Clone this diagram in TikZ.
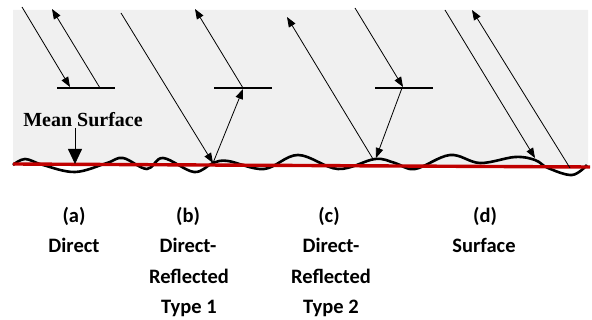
\documentclass[tikz,border=0pt]{standalone}
\usepackage{fontspec}
\setmainfont{Carlito}
\newfontfamily\timesbold{Liberation Serif}[BoldFont={* Bold}]
\usetikzlibrary{arrows.meta}
\definecolor{panelgrey}{HTML}{F0F0F0}
\definecolor{meanred}{HTML}{C00000}
\tikzset{
  ray/.style={line width=0.8pt, -{Triangle[length=10pt,width=7.5pt]}},
  detector/.style={line width=2pt},
  caption/.style={font=\fontsize{20.5}{24}\selectfont\bfseries, anchor=base, inner sep=0pt},
  meanlabel/.style={font=\fontsize{20}{24}\selectfont\timesbold\bfseries, anchor=base, inner sep=0pt},
}
\begin{document}
\begin{tikzpicture}[x=1pt,y=-1pt]
\useasboundingbox (0,0) rectangle (592,320);
% shaded region above the surface
\fill[panelgrey] (13,10) -- (588,10) -- (588,167) -- (13,164) -- cycle;

% rough surface profile
\draw[line width=2.6pt, line join=round]
  plot[smooth, tension=0.6] coordinates {
    (13,165) (25,159) (43,165) (75,172) (107,163) (123,158) (147,169)
    (163,158) (194,172) (213,163) (228,161) (264,169) (298,155) (338,169)
    (375,159) (395,163) (415,169) (450,155) (480,163) (515,157) (535,160)
    (548,168) (572,175) (587,165)};

% mean surface line
\coordinate (ms0) at (13,164);
\coordinate (ms1) at (590,167);
\draw[meanred, line width=3.4pt] (ms0) -- (ms1);

% detector bars
\coordinate (ba0) at (57,88);  \coordinate (ba1) at (115,88);
\coordinate (bb0) at (214,88); \coordinate (bb1) at (272,88);
\coordinate (bc0) at (375,88); \coordinate (bc1) at (433,88);
\draw[detector] (ba0) -- (ba1);
\draw[detector] (bb0) -- (bb1);
\draw[detector] (bc0) -- (bc1);

% (a) direct
\coordinate (a1) at (22,7);   \coordinate (a2) at (70,87);
\coordinate (a3) at (100,88); \coordinate (a4) at (52,9);
\draw[ray] (a1) -- (a2);
\draw[ray] (a3) -- (a4);

% (b) direct-reflected type 1
\coordinate (b1) at (121,13); \coordinate (b2) at (213,163);
\coordinate (b3) at (243,89); \coordinate (b4) at (243,88);
\coordinate (b5) at (195,9);
\draw[ray] (b1) -- (b2);
\draw[ray] (b2) -- (b3);
\draw[ray] (b4) -- (b5);

% (c) direct-reflected type 2
\coordinate (c1) at (355,8);  \coordinate (c2) at (403,87);
\coordinate (c3) at (402,88); \coordinate (c4) at (376,158);
\coordinate (c5) at (373,159); \coordinate (c6) at (287,17);
\draw[ray] (c1) -- (c2);
\draw[ray] (c3) -- (c4);
\draw[ray] (c5) -- (c6);

% (d) surface
\coordinate (d1) at (445,10); \coordinate (d2) at (535,158);
\coordinate (d3) at (570,168); \coordinate (d4) at (472,10);
\draw[ray] (d1) -- (d2);
\draw[ray] (d3) -- (d4);

% mean surface label and pointer
\node[meanlabel] (mean) at (83,127) {Mean Surface};
\coordinate (mp0) at (75,128);
\coordinate (mp1) at (75,164);
\draw[line width=0.8pt, -{Triangle[length=15pt,width=14pt]}] (mp0) -- (mp1);

% captions
\node[caption] (la1) at (74,223) {(a)};
\node[caption] (la2) at (74,253) {Direct};
\node[caption] (lb1) at (188,223) {(b)};
\node[caption] (lb2) at (188,253) {Direct-};
\node[caption] (lb3) at (189,284) {Reflected};
\node[caption] (lb4) at (189,314) {Type 1};
\node[caption] (lc1) at (329,223) {(c)};
\node[caption] (lc2) at (331,253) {Direct-};
\node[caption] (lc3) at (331,284) {Reflected};
\node[caption] (lc4) at (331,314) {Type 2};
\node[caption] (ld1) at (485,223) {(d)};
\node[caption] (ld2) at (484,253) {Surface};
\end{tikzpicture}
\end{document}
